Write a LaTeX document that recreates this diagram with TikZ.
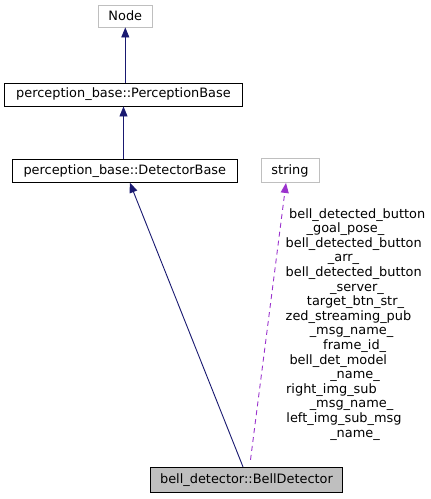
\documentclass[tikz,border=0pt]{standalone}
\usepackage{fontspec}
\setmainfont{DejaVu Sans}
\usetikzlibrary{arrows.meta,calc}
\definecolor{edgenavy}{HTML}{191970}
\definecolor{edgepurple}{HTML}{9A32CD}
\definecolor{boxgray}{HTML}{BFBFBF}
\begin{document}
\begin{tikzpicture}[x=1pt,y=-1pt,
  every node/.style={font=\fontsize{12.9}{14}\selectfont},
  cls/.style={draw=black, line width=0.9pt, fill=white, inner sep=0pt, minimum height=23pt},
  extcls/.style={cls, draw=boxgray},
  mainCls/.style={cls, fill=boxgray},
  inh/.style={draw=edgenavy, line width=0.9pt, -{Triangle[length=10pt,width=8pt,fill=edgenavy]}},
  usage/.style={draw=edgepurple, line width=0.9pt, dash pattern=on 5pt off 4pt, -{Triangle[length=10pt,width=8pt,fill=edgepurple]}},
  lbl/.style={inner sep=0pt, text height=9pt, text depth=3pt, anchor=center}]
\useasboundingbox (0,0) rectangle (431,499);
\node[extcls, minimum width=54pt, minimum height=22pt] (node) at (125.3,16) {Node};
\node[cls, minimum width=238pt] (pb) at (123.5,94.5) {perception\_base::PerceptionBase};
\node[cls, minimum width=225pt] (db) at (124.8,170.7) {perception\_base::DetectorBase};
\node[extcls, minimum width=58pt, minimum height=24pt] (str) at (290,170.5) {string};
\node[mainCls, minimum width=192pt, minimum height=25pt] (bell) at (246.5,479.8) {bell\_detector::BellDetector};

\draw[inh] (pb.north -| node.south) -- (node.south);
\draw[inh] (db.north -| pb.south) -- (pb.south);
\draw[inh] ($(bell.north)+(-3.5,0)$) -- ($(db.south)+(5,0)$);
\draw[usage] ($(bell.north)+(4,-7)$) -- ($(str.south)+(-4,0)$);

\node[lbl] (l1) at (357.2,215) {bell\_detected\_button};
\node[lbl] (l2) at (345.5,229.6) {\_goal\_pose\_};
\node[lbl] (l3) at (353.7,244.2) {bell\_detected\_button};
\node[lbl] (l4) at (343.5,258.8) {\_arr\_};
\node[lbl] (l5) at (353.7,273.4) {bell\_detected\_button};
\node[lbl] (l6) at (357,288) {\_server\_};
\node[lbl] (l7) at (355.5,302.6) {target\_btn\_str\_};
\node[lbl] (l8) at (348.5,317.2) {zed\_streaming\_pub};
\node[lbl] (l9) at (351.5,331.8) {\_msg\_name\_};
\node[lbl] (l10) at (354.7,346.4) {frame\_id\_};
\node[lbl] (l11) at (338.3,361) {bell\_det\_model};
\node[lbl] (l12) at (355,375.6) {\_name\_};
\node[lbl] (l13) at (331.5,390.2) {right\_img\_sub};
\node[lbl] (l14) at (351.5,404.8) {\_msg\_name\_};
\node[lbl] (l15) at (344,419.4) {left\_img\_sub\_msg};
\node[lbl] (l16) at (355,434) {\_name\_};
\end{tikzpicture}
\end{document}
